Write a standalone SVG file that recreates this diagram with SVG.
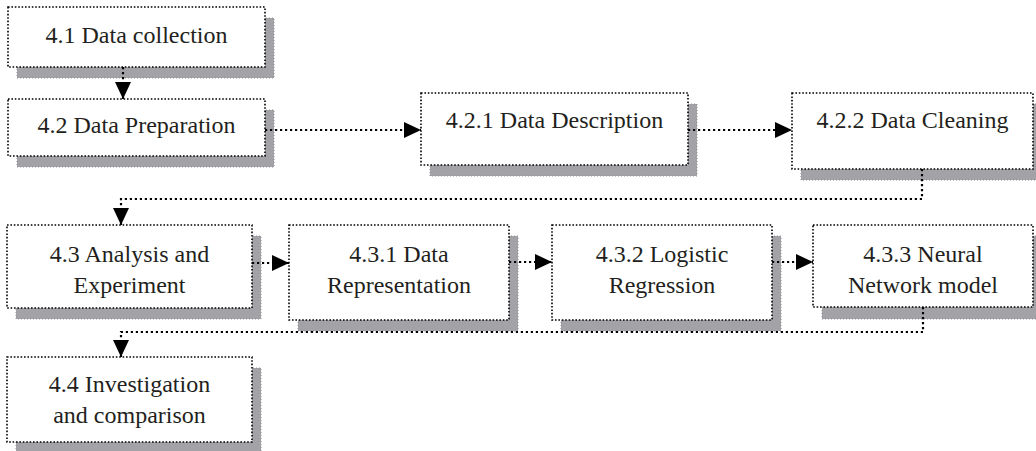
<svg xmlns="http://www.w3.org/2000/svg" width="1036" height="451" viewBox="0 0 1036 451">
<style>
.sh{fill:#a3a3a7;stroke:#8e8e92;stroke-width:1;stroke-dasharray:1 2}
.bx{fill:#ffffff;stroke:#000;stroke-width:1.6;stroke-dasharray:1.6 1.8}
.t{font-family:"Liberation Serif","Times New Roman",serif;font-size:24px;fill:#231f20;text-anchor:middle}
.c{fill:none;stroke:#000;stroke-width:2.2;stroke-dasharray:2.2 2.8;marker-end:url(#ah)}
</style>
<defs>
<marker id="ah" markerUnits="userSpaceOnUse" markerWidth="18" markerHeight="18" viewBox="0 0 18 18" refX="17" refY="8" orient="auto">
<path d="M0,0 L17,8 L0,16 Z" fill="#000"/>
</marker>
</defs>
<rect width="1036" height="451" fill="#fff"/>
<g id="n41"><rect class="sh" x="17" y="18" width="257" height="60"/><rect class="bx" x="8" y="7" width="257" height="60"/><text class="t" x="136.5" y="43">4.1 Data collection</text></g>
<g id="n42"><rect class="sh" x="17" y="110" width="257" height="57"/><rect class="bx" x="8" y="99" width="257" height="57"/><text class="t" x="136.5" y="133">4.2 Data Preparation</text></g>
<g id="n421"><rect class="sh" x="430" y="104" width="267" height="72"/><rect class="bx" x="421" y="93" width="267" height="72"/><text class="t" x="554.5" y="128">4.2.1 Data Description</text></g>
<g id="n422"><rect class="sh" x="801" y="104" width="241" height="76"/><rect class="bx" x="792" y="93" width="241" height="76"/><text class="t" x="912.5" y="128">4.2.2 Data Cleaning</text></g>
<g id="n43"><rect class="sh" x="16" y="236" width="245" height="83"/><rect class="bx" x="7" y="225" width="245" height="83"/><text class="t" x="129.5" y="262">4.3 Analysis and</text><text class="t" x="129.5" y="293">Experiment</text></g>
<g id="n431"><rect class="sh" x="298" y="236" width="220" height="95"/><rect class="bx" x="289" y="225" width="220" height="95"/><text class="t" x="399" y="262">4.3.1 Data</text><text class="t" x="399" y="293">Representation</text></g>
<g id="n432"><rect class="sh" x="561" y="236" width="220" height="95"/><rect class="bx" x="552" y="225" width="220" height="95"/><text class="t" x="662" y="262">4.3.2 Logistic</text><text class="t" x="662" y="293">Regression</text></g>
<g id="n433"><rect class="sh" x="822" y="236" width="220" height="83"/><rect class="bx" x="813" y="225" width="220" height="82"/><text class="t" x="923" y="262">4.3.3 Neural</text><text class="t" x="923" y="293">Network model</text></g>
<g id="n44"><rect class="sh" x="16" y="368" width="245" height="85"/><rect class="bx" x="7" y="357" width="245" height="85"/><text class="t" x="129.5" y="392">4.4 Investigation</text><text class="t" x="129.5" y="423">and comparison</text></g>
<g id="connectors">
<path class="c" d="M123 67 V99"/>
<path class="c" d="M265 130 H421"/>
<path class="c" d="M688 130 H792"/>
<path class="c" d="M922 169 V199 H121 V225"/>
<path class="c" d="M252 263 H289"/>
<path class="c" d="M509 262 H552"/>
<path class="c" d="M772 262 H813"/>
<path class="c" d="M923 307 V332 H121 V357"/>
</g>
</svg>
